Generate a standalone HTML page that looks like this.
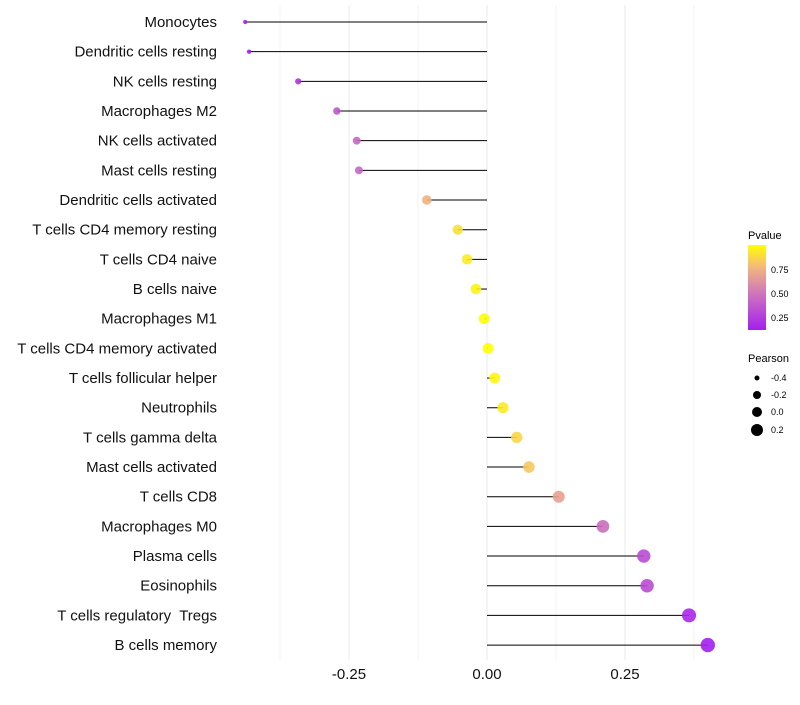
<!DOCTYPE html>
<html><head><meta charset="utf-8"><style>
body{margin:0;background:#fff;font-family:"Liberation Sans",sans-serif}
text{white-space:pre}
</style></head><body>
<svg id="chart" width="800" height="700" xmlns="http://www.w3.org/2000/svg" font-family="Liberation Sans, sans-serif">
<g id="grid"></g>
<g id="marks"></g>
<g id="ylabels"></g>
<g id="xlabels"></g>
<g>
<defs><linearGradient id="pg" x1="0" y1="1" x2="0" y2="0">
<stop offset="0" stop-color="#a41ff0"/><stop offset="0.45" stop-color="#d07ab8"/><stop offset="0.75" stop-color="#f5b97a"/><stop offset="1" stop-color="#ffff00"/></linearGradient></defs>
<text x="748" y="239" font-size="11">Pvalue</text>
<rect x="748" y="245" width="18" height="85" fill="url(#pg)"/>
<text x="771" y="273" font-size="9">0.75</text>
<text x="771" y="297" font-size="9">0.50</text>
<text x="771" y="321" font-size="9">0.25</text>
</g>
<g>
<text x="748" y="362" font-size="11">Pearson</text>
<circle cx="757" cy="378" r="2.5"/>
<text x="771" y="381" font-size="9">-0.4</text>
<circle cx="757" cy="395" r="4"/>
<text x="771" y="398" font-size="9">-0.2</text>
<circle cx="757" cy="412" r="5"/>
<text x="771" y="415" font-size="9">0.0</text>
<circle cx="757" cy="430" r="6"/>
<text x="771" y="433" font-size="9">0.2</text>
</g>
</svg>
<script>
const categories=["Monocytes","Dendritic cells resting","NK cells resting","Macrophages M2","NK cells activated","Mast cells resting","Dendritic cells activated","T cells CD4 memory resting","T cells CD4 naive","B cells naive","Macrophages M1","T cells CD4 memory activated","T cells follicular helper","Neutrophils","T cells gamma delta","Mast cells activated","T cells CD8","Macrophages M0","Plasma cells","Eosinophils","T cells regulatory  Tregs","B cells memory"];
const pearson=[-0.438,-0.431,-0.342,-0.272,-0.236,-0.232,-0.109,-0.053,-0.036,-0.020,-0.005,0.002,0.014,0.029,0.054,0.076,0.130,0.210,0.284,0.290,0.366,0.400];
const pvalues=[0.05,0.06,0.2,0.35,0.42,0.42,0.72,0.88,0.92,0.95,0.98,0.99,0.96,0.92,0.85,0.8,0.66,0.45,0.3,0.3,0.15,0.1];
const xTicks=[-0.25,0,0.25];
const xTickLabels=["-0.25","0.00","0.25"];
const gridVals=[-0.375,-0.25,-0.125,0,0.125,0.25,0.375];
const ns="http://www.w3.org/2000/svg";
const xs=v=>487+v*552;
const ys=i=>22+i*29.67;
function lerp(a,b,t){return a.map((c,k)=>Math.round(c+(b[k]-c)*t));}
const stops=[[0.11,[164,31,240]],[0.5,[208,122,184]],[0.75,[245,185,122]],[0.99,[255,255,0]]];
function color(p){p=Math.max(0.11,Math.min(0.99,p));for(let k=0;k<stops.length-1;k++){if(p<=stops[k+1][0]){const t=(p-stops[k][0])/(stops[k+1][0]-stops[k][0]);const c=lerp(stops[k][1],stops[k+1][1],t);return`rgb(${c})`;}}return"rgb(255,255,0)";}
function mk(t,a,parent){const e=document.createElementNS(ns,t);for(const k in a)e.setAttribute(k,a[k]);document.getElementById(parent).appendChild(e);return e;}
gridVals.forEach(v=>{const l=mk("line",{x1:xs(v),x2:xs(v),y1:5,y2:660,stroke:"#ebebeb","stroke-width":v%0.25===0?1:0.6},"grid");

});
categories.forEach((c,i)=>{
const y=ys(i);
const l=mk("line",{x1:xs(0),x2:xs(pearson[i]),y1:y,y2:y,stroke:"#000","stroke-width":1},"marks");


const r=Math.sqrt(Math.max(1,29+56*pearson[i]));
const p=mk("circle",{cx:xs(pearson[i]),cy:y,r:r,fill:color(pvalues[i]),"fill-opacity":0.9},"marks");


const t=mk("text",{x:217,y:y+5,"text-anchor":"end","font-size":15,fill:"#111"},"ylabels");
t.textContent=c;


});
xTicks.forEach((v,i)=>{const t=mk("text",{x:xs(v),y:679,"text-anchor":"middle","font-size":15,fill:"#111"},"xlabels");
t.textContent=xTickLabels[i];

});
</script>
</body></html>
